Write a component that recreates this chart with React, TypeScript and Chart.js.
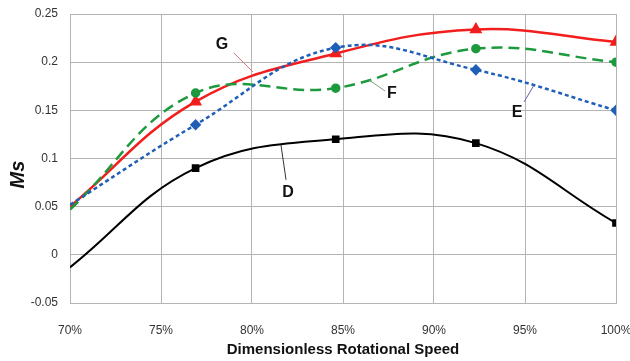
import React, { useEffect, useRef } from "react";
import { Chart, registerables } from "chart.js";

Chart.register(...registerables);

const speeds = [0.7, 0.769, 0.846, 0.923, 1.0];
const seriesD = [-0.013, 0.090, 0.120, 0.116, 0.033];
const seriesG = [0.050, 0.159, 0.209, 0.234, 0.221];
const seriesF = [0.047, 0.168, 0.173, 0.214, 0.200];
const seriesE = [0.052, 0.135, 0.215, 0.192, 0.150];
const markerRadius = [0, 4, 4, 4, 4];

const yTicks = [-0.05, 0, 0.05, 0.1, 0.15, 0.2, 0.25];
const xTickLabels = ["70%", "75%", "80%", "85%", "90%", "95%", "100%"];

const labelNames = ["G", "F", "E", "D"];
const labelTextX = [0.7835, 0.8769, 0.9456, 0.8198];
const labelTextY = [0.2178, 0.167, 0.1473, 0.0644];
const leaderFromX = [0.790, 0.8731, 0.9495, 0.8187];
const leaderFromY = [0.2096, 0.1701, 0.1587, 0.0778];
const leaderToX = [0.8005, 0.8643, 0.955, 0.8159];
const leaderToY = [0.1898, 0.1816, 0.1764, 0.1142];
const leaderColors = ["#d9707a", "#7f9f7f", "#6a5aa8", "#333333"];

const toPts = (ys: number[]) => speeds.map((x, i) => ({ x, y: ys[i] }));

const labelPlugin = {
  id: "curveLabels",
  afterDatasetsDraw(chart: any) {
    const { ctx, scales } = chart;
    const xs = scales.x;
    const ys = scales.y;
    ctx.save();
    labelNames.forEach((name, i) => {
      ctx.strokeStyle = leaderColors[i];
      ctx.lineWidth = 1;
      ctx.beginPath();
      ctx.moveTo(xs.getPixelForValue(leaderFromX[i]), ys.getPixelForValue(leaderFromY[i]));
      ctx.lineTo(xs.getPixelForValue(leaderToX[i]), ys.getPixelForValue(leaderToY[i]));
      ctx.stroke();
      ctx.fillStyle = "#111111";
      ctx.font = "bold 16px 'Liberation Sans', Arial, sans-serif";
      ctx.textAlign = "center";
      ctx.textBaseline = "middle";
      ctx.fillText(name, xs.getPixelForValue(labelTextX[i]), ys.getPixelForValue(labelTextY[i]));
    });
    const area = chart.chartArea;
    ctx.fillStyle = "#111111";
    ctx.font = "bold 15px 'Liberation Sans', Arial, sans-serif";
    ctx.textAlign = "center";
    ctx.textBaseline = "middle";
    ctx.fillText("Dimensionless Rotational Speed", (area.left + area.right) / 2, 350);
    ctx.translate(18, (area.top + area.bottom) / 2 + 16);
    ctx.rotate(-Math.PI / 2);
    ctx.font = "italic bold 20px 'Liberation Sans', Arial, sans-serif";
    ctx.fillText("Ms", 0, 0);
    ctx.restore();
  },
};

export default function App() {
  const ref = useRef<HTMLCanvasElement | null>(null);

  useEffect(() => {
    if (!ref.current) return;
    const tickFont = { family: "'Liberation Sans Narrow', 'Liberation Sans', Arial, sans-serif", size: 12 };
    const chart = new Chart(ref.current, {
      type: "line",
      data: {
        datasets: [
          {
            label: "D",
            data: toPts(seriesD),
            borderColor: "#000000",
            backgroundColor: "#000000",
            borderWidth: 2,
            pointStyle: "rect",
            pointRadius: markerRadius,
            tension: 0.4,
          },
          {
            label: "E",
            data: toPts(seriesE),
            borderColor: "#1f5fb8",
            backgroundColor: "#1f5fb8",
            borderWidth: 2.5,
            borderDash: [4, 3],
            pointStyle: "rectRot",
            pointRadius: markerRadius,
            tension: 0.4,
          },
          {
            label: "F",
            data: toPts(seriesF),
            borderColor: "#1e9a3e",
            backgroundColor: "#1e9a3e",
            borderWidth: 2.5,
            borderDash: [11, 6],
            pointStyle: "circle",
            pointRadius: markerRadius.map((r) => (r ? 3.5 : 0)),
            tension: 0.4,
          },
          {
            label: "G",
            data: toPts(seriesG),
            borderColor: "#f21d1d",
            backgroundColor: "#f21d1d",
            borderWidth: 2.5,
            pointStyle: "triangle",
            pointRadius: markerRadius.map((r) => (r ? 5 : 0)),
            tension: 0.4,
          },
        ],
      },
      options: {
        animation: false,
        responsive: false,
        maintainAspectRatio: false,
        layout: { padding: { left: 0, top: 14, right: 14, bottom: 0 } },
        plugins: { legend: { display: false }, tooltip: { enabled: false } },
        scales: {
          x: {
            type: "linear",
            min: 0.7,
            max: 1.0,
            afterBuildTicks: (scale: any) => {
              scale.ticks = xTickLabels.map((_, i) => ({ value: 0.7 + i * 0.05 }));
            },
            afterFit: (scale: any) => {
              scale.height = 58;
              scale.paddingLeft = 0;
              scale.paddingRight = 0;
            },
            ticks: {
              color: "#333333",
              font: tickFont,
              padding: 20,
              maxRotation: 0,
              callback: (_v: any, i: number) => xTickLabels[i],
            },
            grid: { color: "#b4b4b4", drawTicks: false, lineWidth: 1 },
            border: { color: "#b4b4b4" },
          },
          y: {
            type: "linear",
            min: -0.05,
            max: 0.25,
            afterBuildTicks: (scale: any) => {
              scale.ticks = yTicks.map((v) => ({ value: v }));
            },
            afterFit: (scale: any) => {
              scale.width = 70;
              scale.paddingTop = 0;
              scale.paddingBottom = 0;
            },
            ticks: {
              color: "#333333",
              font: tickFont,
              padding: 12,
              callback: (v: any) => String(Math.round(Number(v) * 100) / 100),
            },
            grid: { color: "#b4b4b4", drawTicks: false, lineWidth: 1 },
            border: { color: "#b4b4b4" },
          },
        },
      },
      plugins: [labelPlugin],
    } as any);
    return () => chart.destroy();
  }, []);

  return (
    <div style={{ position: "absolute", left: 0, top: 0, width: 630, height: 361, background: "#ffffff" }}>
      <canvas ref={ref} width={630} height={361} style={{ width: 630, height: 361 }} />
    </div>
  );
}
